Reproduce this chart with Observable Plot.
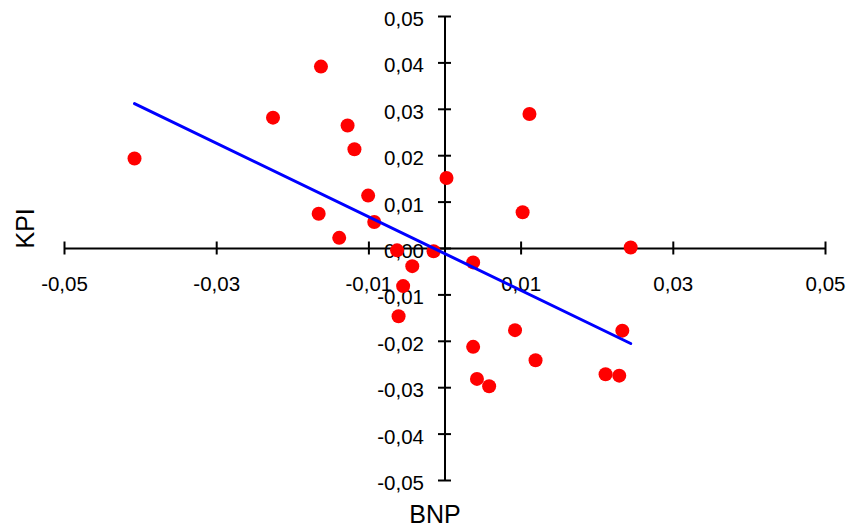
<!DOCTYPE html>
<html><head><meta charset="utf-8">
<script src="https://cdn.jsdelivr.net/npm/d3@7"></script>
<script src="https://cdn.jsdelivr.net/npm/@observablehq/plot@0.6"></script>
<style>html,body{margin:0;padding:0;background:#fff;} #chart{width:854px;height:528px;overflow:hidden;}</style>
</head><body><div id="chart"></div>
<script>
const bnp = [-0.0408,-0.0226,-0.0163,-0.0128,-0.0119,-0.0101,-0.0166,-0.0093,-0.0139,-0.0063,-0.0015,-0.0043,-0.0055,-0.0061,
             0.0002,0.0111,0.0102,0.0244,0.0037,0.0092,0.0037,0.0042,0.0058,0.0119,0.0211,0.0229,0.0233];
const kpi = [0.0194,0.0282,0.0392,0.0265,0.0214,0.0114,0.0075,0.0057,0.0023,-0.0004,-0.0006,-0.0038,-0.0081,-0.0146,
             0.0152,0.0290,0.0078,0.0002,-0.0030,-0.0176,-0.0212,-0.0281,-0.0297,-0.0241,-0.0271,-0.0274,-0.0177];
const xTicks = [-0.05,-0.03,-0.01,0.01,0.03,0.05];
const yTicks = [-0.05,-0.04,-0.03,-0.02,-0.01,0,0.01,0.02,0.03,0.04,0.05];
const xTitle = "BNP";
const yTitle = "KPI";

const data = bnp.map((x, i) => ({x, y: kpi[i]}));
const fmt = d => d.toFixed(2).replace(".", ",");

const chart = Plot.plot({
  width: 854, height: 528,
  marginLeft: 64, marginRight: 29, marginTop: 16, marginBottom: 48,
  x: {domain: [-0.05, 0.05], axis: null},
  y: {domain: [-0.05, 0.05], axis: null},
  style: {fontFamily: "'Liberation Sans', Arial, sans-serif", background: "white", color: "black"},
  marks: [
    Plot.ruleY([0], {stroke: "black", strokeWidth: 2}),
    Plot.ruleX([0], {stroke: "black", strokeWidth: 2}),
    Plot.ruleX(xTicks, {x: d => d, y1: 0, y2: 0, insetTop: -6.5, insetBottom: -6.5, stroke: "black", strokeWidth: 2}),
    Plot.ruleY(yTicks, {y: d => d, x1: 0, x2: 0, insetLeft: -6.5, insetRight: -6.5, stroke: "black", strokeWidth: 2}),
    Plot.text(yTicks, {x: 0, y: d => d, text: fmt, textAnchor: "end", dx: -21, dy: 3, fontSize: 20.5, fill: "black"}),
    Plot.text(xTicks, {x: d => d, y: 0, text: fmt, dy: 36, fontSize: 20.5, fill: "black"}),
    Plot.text([yTitle], {frameAnchor: "left", y: 0, dx: -38.5, rotate: -90, fontSize: 25, fill: "black"}),
    Plot.text([xTitle], {frameAnchor: "bottom", dx: -10, dy: 25, lineAnchor: "top", fontSize: 25, fill: "black"}),
    Plot.dot(data, {x: "x", y: "y", r: 7, fill: "#ff0000", stroke: "none"}),
    Plot.linearRegressionY(data, {x: "x", y: "y", ci: 0, stroke: "#0000ff", strokeWidth: 3})
  ]
});
document.getElementById("chart").append(chart);
</script>
</body></html>
